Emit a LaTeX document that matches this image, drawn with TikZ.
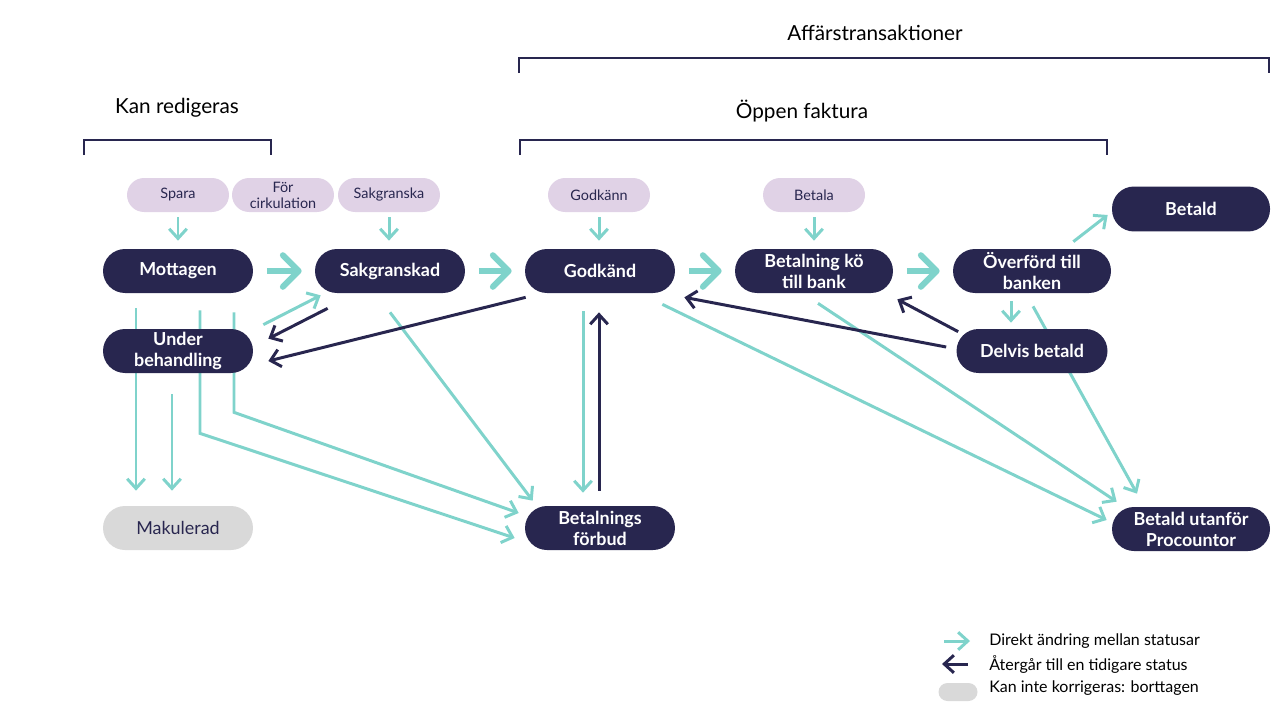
\documentclass[tikz,border=0pt]{standalone}
\usepackage{fontspec}
\setmainfont{Lato}
\usetikzlibrary{arrows.meta,calc}
\definecolor{marin}{HTML}{28264F}
\definecolor{turkos}{HTML}{7FD3CB}
\definecolor{lila}{HTML}{E0D2E6}
\definecolor{ljusgra}{HTML}{D9D9D9}
\pgfdeclarelayer{bg}
\pgfsetlayers{bg,main}

\begin{document}
\begin{tikzpicture}[x=0.02cm,y=-0.02cm,
  status/.style={fill=marin,text=white,rounded corners=0.44cm,minimum width=3cm,minimum height=0.88cm,inner sep=0pt,align=center,font=\bfseries\fontsize{10.2}{12}\selectfont},
  handling/.style={fill=lila,text=marin,rounded corners=0.34cm,minimum width=2.04cm,minimum height=0.68cm,inner sep=0pt,align=center,font=\fontsize{8.2}{9}\selectfont},
  direkt/.style={draw=turkos,line width=1.7pt,-{Straight Barb[length=5.5pt,width=10pt]}},
  atergang/.style={draw=marin,line width=1.7pt,-{Straight Barb[length=5.5pt,width=10pt]}},
  stor/.style={draw=turkos,line width=3.4pt,shorten <=0.27cm,shorten >=0.26cm,-{Straight Barb[round,length=9pt,width=18pt]}},
  rubrik/.style={text=black,font=\fontsize{11.8}{14}\selectfont},
  forklaring/.style={anchor=west,inner sep=0pt,text=black,font=\fontsize{9.1}{11}\selectfont},
  klammer/.style={draw=marin,line width=1.1pt}]
\useasboundingbox (0,0) rectangle (1280,720);

\node[rubrik] (kanred) at (177,108) {Kan redigeras};
\node[rubrik] (affar) at (875,33) {Affärstransaktioner};
\node[rubrik] (oppen) at (802,111) {Öppen faktura};
\draw[klammer] (84,155) |- (271,140) -- (271,155);
\draw[klammer] (519,73) |- (1269,58) -- (1269,73);
\draw[klammer] (520,155) |- (1107,140) -- (1107,155);

\node[handling] (spara) at (178,195) {Spara};
\node[handling] (cirk) at (283,195) {För\\cirkulation};
\node[handling] (sakgr) at (389,195) {Sakgranska};
\node[handling] (godk) at (599,195) {Godkänn};
\node[handling] (betala) at (814,195) {Betala};

\node[status] (mott) at (178,271) {Mottagen};
\node[status] (sak) at (390,271) {Sakgranskad};
\node[status] (god) at (600,271) {Godkänd};
\node[status,minimum width=3.16cm] (bkb) at (814,271) {Betalning kö\\till bank};
\node[status,minimum width=3.16cm] (overf) at (1032,271) {Överförd till\\banken};
\node[status,minimum width=3.16cm,minimum height=0.9cm] (betald) at (1191,209) {Betald};
\node[status] (ub) at (178,351) {Under\\behandling};
\node[status,minimum width=3.02cm] (delv) at (1032,351) {Delvis betald};
\node[status,fill=ljusgra,text=marin,font=\fontsize{10.2}{12}\selectfont] (mak) at (178,528) {Makulerad};
\node[status] (forbud) at (600,528) {Betalnings\\förbud};
\node[status,minimum width=3.16cm] (utanfor) at (1191,529) {Betald utanför\\Procountor};

\begin{pgfonlayer}{bg}
\draw[direkt,shorten <=0.1cm,shorten >=0.16cm] (spara) -- (mott);
\draw[direkt,shorten <=0.1cm,shorten >=0.16cm] (sakgr) -- (sakgr |- sak.north);
\draw[direkt,shorten <=0.1cm,shorten >=0.16cm] (godk) -- (godk |- god.north);
\draw[direkt,shorten <=0.1cm,shorten >=0.16cm] (betala) -- (bkb);

\draw[stor] (mott) -- (sak);
\draw[stor] (sak) -- (god);
\draw[stor] (god) -- (bkb);
\draw[stor] (bkb) -- (overf);

\draw[direkt] ($(mott.south)+(-42,15)$) -- ($(mak.north)+(-42,-15)$);
\draw[direkt] ($(ub.south)+(-6,21)$) -- ($(mak.north)+(-6,-15)$);
\draw[direkt] ($(mott.south)+(22,17)$) -- ++(0,123) -- ($(forbud.west)+(-10,10)$);
\draw[direkt] ($(mott.south)+(56,19)$) -- ++(0,100) -- ($(forbud.west)+(-6,-15)$);
\draw[direkt] ($(sak.south)+(0,19)$) -- ($(forbud.north west)+(8,-5)$);
\draw[direkt] ($(ub.north east)+(10,-4)$) -- ($(sak.south west)+(6,2)$);
\draw[atergang] ($(sak.south west)+(13,15)$) -- ($(ub.north east)+(15,10)$);
\draw[atergang] ($(god.south west)+(1,4)$) -- ($(ub.east)+(15,10)$);

\draw[direkt] ($(god.south)+(-17,18)$) -- ($(forbud.north)+(-17,-13)$);
\draw[atergang] ($(forbud.north)+(-1,-15)$) -- ($(god.south)+(-1,19)$);
\draw[direkt] ($(god.south east)+(-13,11)$) -- ($(utanfor.west)+(-5,-9)$);
\draw[direkt] ($(bkb.south)+(4,10)$) -- ($(utanfor.north west)+(5,-5)$);

\draw[atergang] ($(delv.north west)+(2,3)$) -- ($(bkb.south east)+(4,6)$);
\draw[atergang] ($(delv.west)+(-10,-4)$) -- ($(god.south east)+(9,4)$);
\draw[direkt] ($(overf.south)+(-21,8)$) -- ($(delv.north)+(-21,-6)$);
\draw[direkt] ($(overf.south)+(1,13)$) -- ($(utanfor.north)+(-54,-13)$);
\draw[direkt] ($(overf.north east)+(-38,-7)$) -- ($(betald.west)+(-4,6)$);
\end{pgfonlayer}

\coordinate (l1a) at (944,641);
\coordinate (l1b) at (970,641);
\coordinate (l2a) at (968,664);
\coordinate (l2b) at (942,664);
\draw[direkt] (l1a) -- (l1b);
\draw[atergang] (l2a) -- (l2b);
\node[fill=ljusgra,rounded corners=0.18cm,minimum width=0.78cm,minimum height=0.36cm,inner sep=0pt] (l3) at (958,692) {};
\node[forklaring] (t1) at (989,641) {Direkt ändring mellan statusar};
\node[forklaring] (t2) at (989,664) {Återgår till en tidigare status};
\node[forklaring] (t3) at (989,688) {Kan inte korrigeras: borttagen};

\end{tikzpicture}
\end{document}
